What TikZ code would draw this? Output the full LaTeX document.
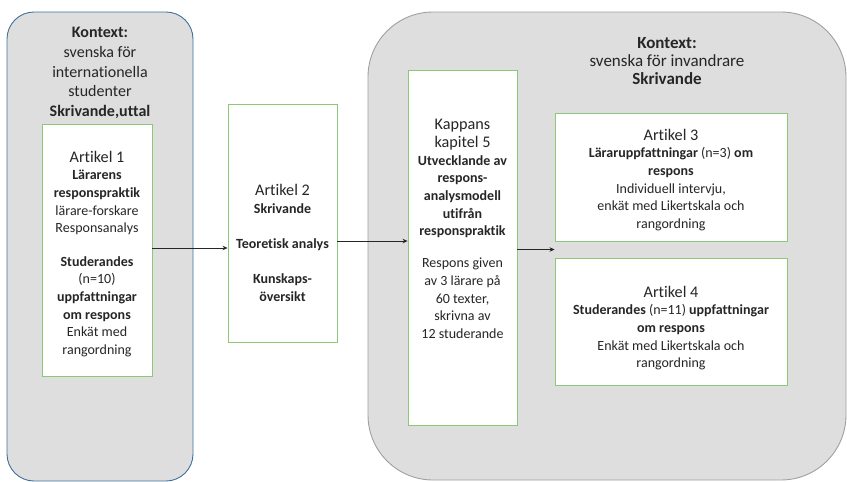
\documentclass[tikz,border=0pt]{standalone}
\usepackage{fontspec}
\setmainfont[RawFeature={-liga;-clig;-calt;-rlig;-dlig;-ccmp}]{Carlito}
\usetikzlibrary{calc,arrows.meta}
\definecolor{ctxgray}{RGB}{223,222,222}
\definecolor{ctxblue}{RGB}{65,113,156}
\definecolor{ctxedge}{RGB}{160,160,160}
\definecolor{boxgreen}{RGB}{140,200,120}
\definecolor{txt}{RGB}{38,38,38}
\tikzset{
  ctxL/.style={draw=ctxblue, fill=ctxgray, line width=0.9pt, rounded corners=27pt, inner sep=0pt},
  ctxR/.style={draw=ctxedge, fill=ctxgray, line width=0.9pt, rounded corners=65pt, inner sep=0pt},
  artbox/.style={draw=boxgreen, fill=white, line width=0.9pt, inner sep=0pt},
  btxt/.style={align=center, text=txt, font=\fontsize{14}{17.7}\selectfont, inner sep=0pt},
  ctxt/.style={align=center, text=txt, font=\fontsize{16}{19.6}\selectfont, inner sep=0pt},
  arr/.style={-{Stealth[length=5pt,width=4.5pt]}, line width=0.7pt, draw=black!85}
}
\newcommand{\hd}[1]{{\fontsize{16.2}{17.7}\selectfont #1}}
\begin{document}
\begin{tikzpicture}[x=1pt,y=-1pt]
\useasboundingbox (0,0) rectangle (847,482);
% context boxes
\node[ctxL, minimum width=186pt, minimum height=469pt] (cl) at (100,246.5) {};
\node[ctxR, minimum width=478pt, minimum height=468pt] (cr) at (607,246) {};
% context texts
\node[ctxt] (clt) at (100,73) {\textbf{Kontext:}\\svenska för\\internationella\\studenter\\\textbf{Skrivande,uttal}};
\node[ctxt, font=\fontsize{17}{18.2}\selectfont] (crt) at (667,61) {\textbf{Kontext:}\\svenska för invandrare\\\textbf{Skrivande}};
% article boxes
\node[artbox, minimum width=110pt, minimum height=252pt] (a1) at (97,250) {};
\node[artbox, minimum width=109pt, minimum height=238pt] (a2) at (282.5,223) {};
\node[artbox, minimum width=109pt, minimum height=355pt] (k) at (462.5,247.5) {};
\node[artbox, minimum width=232pt, minimum height=128pt] (a3) at (671,177) {};
\node[artbox, minimum width=232pt, minimum height=127pt] (a4) at (671,321.5) {};
% texts
\node[btxt] (a1t) at (97,254) {\hd{Artikel 1}\\\textbf{Lärarens}\\\textbf{responspraktik}\\lärare-forskare\\Responsanalys\\[15.5pt]\textbf{Studerandes}\\(n=10)\\\textbf{uppfattningar}\\\textbf{om respons}\\Enkät med\\rangordning};
\node[btxt] (a2t) at (282.5,243) {\hd{Artikel 2}\\\textbf{Skrivande}\\[17.5pt]\textbf{Teoretisk analys}\\[17.5pt]\textbf{Kunskaps-}\\\textbf{översikt}};
\node[btxt] (kt) at (462.5,229) {\hd{Kappans}\\\hd{kapitel 5}\\\textbf{Utvecklande av}\\\textbf{respons-}\\\textbf{analysmodell}\\\textbf{utifrån}\\\textbf{responspraktik}\\[14pt]Respons given\\av 3 lärare på\\60 texter,\\skrivna av\\12 studerande};
\node[btxt] (a3t) at (671,180) {\hd{Artikel 3}\\\textbf{Läraruppfattningar} (n=3) \textbf{om}\\\textbf{respons}\\Individuell intervju,\\enkät med Likertskala och\\rangordning};
\node[btxt] (a4t) at (671,328) {\hd{Artikel 4}\\\textbf{Studerandes} (n=11) \textbf{uppfattningar}\\\textbf{om respons}\\Enkät med Likertskala och\\rangordning};
% connectors
\coordinate (gap) at ($(a3.south west)!0.5!(a4.north west)$);
\draw[arr] ([yshift=2pt]a1.east) -- ([yshift=2pt]a1.east -| a2.west);
\draw[arr] ([yshift=-18pt]a2.east) -- ([yshift=-18pt]a2.east -| k.west);
\draw[arr] (k.east |- gap) -- (gap);
\end{tikzpicture}
\end{document}
